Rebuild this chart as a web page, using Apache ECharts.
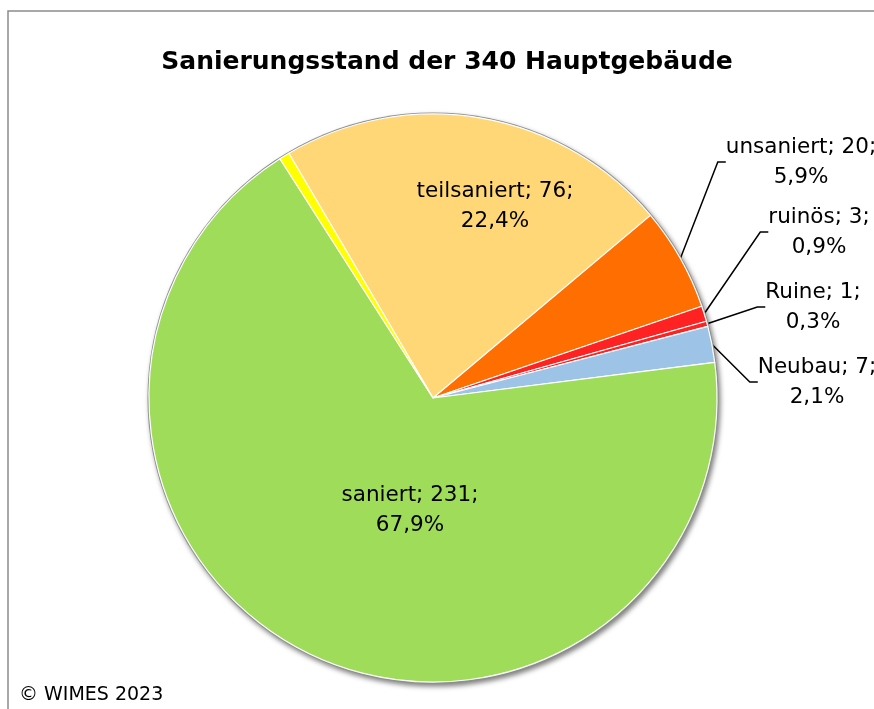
<!DOCTYPE html>
<html><head><meta charset="utf-8">
<script src="https://cdn.jsdelivr.net/npm/echarts@6/dist/echarts.min.js"></script>
<style>html,body{margin:0;padding:0;background:#fff}#c{width:874px;height:709px}</style>
</head><body><div id="c"></div>
<script>
// ---- data ----
const categories = ['teilsaniert', 'unsaniert', 'ruinös', 'Ruine', 'Neubau', 'saniert', 'sonstige'];
const counts = [76, 20, 3, 1, 7, 231, 2];
const showLabel = [true, true, true, true, true, true, false];
const insideLabel = [true, false, false, false, false, true, false];
const colors = ['#FFD777', '#FF6E00', '#FF2222', '#FF2222', '#9DC3E6', '#9EDC5A', '#FFFF00'];
const titleText = 'Sanierungsstand der 340 Hauptgebäude';
const footerText = '© WIMES 2023';
// label centres (layout only)
const labelCenters = [[495, 206], [801, 162], [819, 232], [813, 307], [817, 382], [410, 510], null];

const total = counts.reduce((a, b) => a + b, 0);
const pct = v => (v / total * 100).toFixed(1).replace('.', ',') + '%';
const FONT = 'DejaVu Sans';

const chart = echarts.init(document.getElementById('c'), null, {renderer: 'canvas'});
chart.setOption({
  animation: false,
  backgroundColor: '#fff',
  graphic: [
    {type: 'polyline', shape: {points: [[8, 709], [8, 11], [874, 11]]}, style: {stroke: '#8c8c8c', lineWidth: 1.5, fill: null}, silent: true},
    {type: 'text', x: 447, y: 62, style: {text: titleText, font: 'bold 25px "DejaVu Sans"', fill: '#000', textAlign: 'center', textVerticalAlign: 'middle'}},
    {type: 'text', x: 19, y: 695, style: {text: footerText, font: '19px "DejaVu Sans"', fill: '#000', textAlign: 'left', textVerticalAlign: 'middle'}}
  ],
  series: [
    {
      type: 'pie', silent: true, center: [433, 398], radius: 285.5,
      data: [{value: total, itemStyle: {color: '#8f8f8f'}}],
      label: {show: false}, labelLine: {show: false},
      itemStyle: {shadowBlur: 5, shadowOffsetX: 2, shadowOffsetY: 3, shadowColor: 'rgba(0,0,0,0.5)'},
      emphasis: {disabled: true}
    },
    {
      type: 'pie', center: [433, 398], radius: 284, startAngle: 120.5, clockwise: true,
      avoidLabelOverlap: false,
      data: categories.map((n, i) => ({
        name: n, value: counts[i],
        itemStyle: {color: colors[i]},
        label: {show: showLabel[i], position: insideLabel[i] ? 'inside' : 'outside'},
        labelLine: {show: showLabel[i] && !insideLabel[i]}
      })),
      itemStyle: {borderColor: '#fff', borderWidth: 1.2},
      label: {
        formatter: p => p.name + '; ' + p.value + ';\n' + pct(p.value),
        fontFamily: FONT, fontSize: 21.5, lineHeight: 30, color: '#000', align: 'center'
      },
      labelLine: {lineStyle: {color: '#000', width: 1.5}, length: 20, length2: 8},
      labelLayout: p => {
        const c = labelCenters[p.dataIndex];
        if (!c) return {};
        return {x: c[0], y: c[1], align: 'center', verticalAlign: 'middle'};
      },
      emphasis: {disabled: true}
    }
  ]
});
</script>
</body></html>
